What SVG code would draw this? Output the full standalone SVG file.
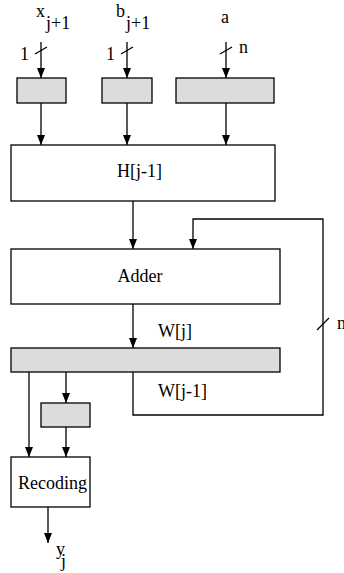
<svg xmlns="http://www.w3.org/2000/svg" width="344" height="573" viewBox="0 0 344 573">
<style>
.box{fill:#fff;stroke:#000;stroke-width:1.3}
.reg{fill:#dcdcdc;stroke:#000;stroke-width:1.3}
.ln{fill:none;stroke:#000;stroke-width:1.3}
.arr{fill:none;stroke:#000;stroke-width:1.3;marker-end:url(#ah)}
text{font-family:"Liberation Serif","Times New Roman",serif;font-size:18px;fill:#000}
</style>
<defs>
<marker id="ah" markerUnits="userSpaceOnUse" markerWidth="10" markerHeight="8" refX="10" refY="4" orient="auto">
<path d="M0,0 L10,4 L0,8 z" fill="#000"/>
</marker>
</defs>
<rect width="344" height="573" fill="#fff"/>
<g id="connectors">
<line class="arr" x1="41" y1="42" x2="41" y2="78"/>
<line class="ln" x1="35" y1="54" x2="47" y2="47"/>
<line class="arr" x1="127" y1="42" x2="127" y2="78"/>
<line class="ln" x1="121" y1="54" x2="133" y2="47"/>
<line class="arr" x1="226" y1="42" x2="226" y2="78"/>
<line class="ln" x1="220" y1="54" x2="232" y2="47"/>
<line class="arr" x1="41" y1="103" x2="41" y2="145"/>
<line class="arr" x1="127" y1="103" x2="127" y2="145"/>
<line class="arr" x1="226" y1="103" x2="226" y2="145"/>
<line class="arr" x1="133" y1="201" x2="133" y2="249"/>
<polyline class="arr" points="133,372 133,415 323,415 323,219 193,219 193,249"/>
<line class="ln" x1="317" y1="330" x2="329" y2="318"/>
<line class="arr" x1="133" y1="304" x2="133" y2="348"/>
<line class="arr" x1="29" y1="372" x2="29" y2="457"/>
<line class="arr" x1="66" y1="372" x2="66" y2="403"/>
<line class="arr" x1="66" y1="427" x2="66" y2="457"/>
<line class="arr" x1="48" y1="507" x2="48" y2="543"/>
</g>
<g id="labels">
<text x="36" y="17">x</text>
<text x="46" y="29">j+1</text>
<text x="20" y="60">1</text>
<text x="116" y="17">b</text>
<text x="126" y="29">j+1</text>
<text x="106" y="60">1</text>
<text x="221" y="23">a</text>
<text x="239" y="53">n</text>
<text x="337" y="329">n</text>
<text x="158" y="337">W[j]</text>
<text x="158" y="397">W[j-1]</text>
<text x="56" y="555">y</text>
<text x="61" y="567">j</text>
</g>
<g id="in-x"><rect class="reg" x="17" y="78" width="49" height="25"/></g>
<g id="in-b"><rect class="reg" x="102" y="78" width="50" height="25"/></g>
<g id="in-a"><rect class="reg" x="176" y="78" width="98" height="25"/></g>
<g id="h"><rect class="box" x="11" y="145" width="264" height="56"/><text x="139.5" y="177" text-anchor="middle">H[j-1]</text></g>
<g id="adder"><rect class="box" x="11" y="249" width="269" height="55"/><text x="140" y="282" text-anchor="middle">Adder</text></g>
<g id="w"><rect class="reg" x="11" y="348" width="269" height="24"/></g>
<g id="small"><rect class="reg" x="41" y="403" width="49" height="24"/></g>
<g id="recoding"><rect class="box" x="11" y="457" width="79" height="50"/><text x="18" y="489">Recoding</text></g>
</svg>
